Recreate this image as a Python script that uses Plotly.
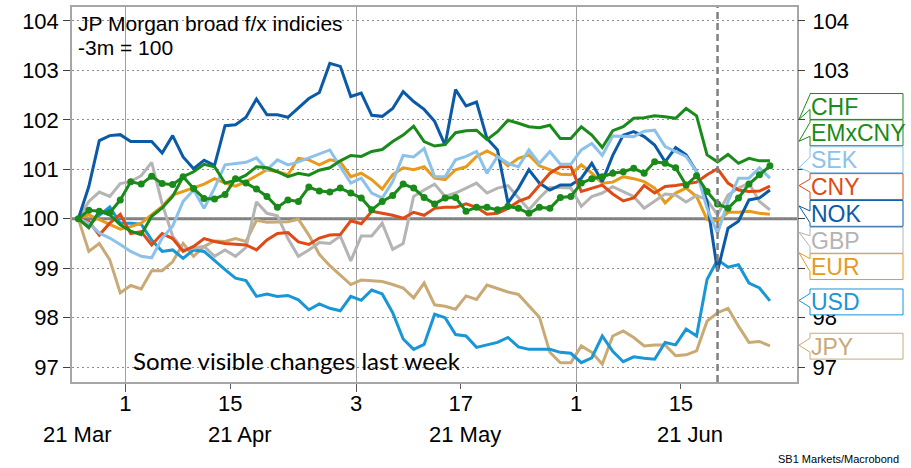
import pandas as pd
import plotly.graph_objects as go

# ---------------------------------------------------------------- data
# Business days, 3 months ending 25 Jun 2021 (index = 100 at the start)
dates = pd.bdate_range("2021-03-25", "2021-06-25") + pd.Timedelta(hours=12)

chf = [100.00, 99.82, 100.15, 100.08, 99.88, 99.75, 99.68, 100.05, 100.22, 100.45,
       100.85, 100.95, 101.10, 101.05, 100.72, 100.78, 100.88, 101.05, 101.03, 100.95,
       100.85, 100.92, 100.88, 100.98, 101.03, 101.17, 101.28, 101.26, 101.36, 101.40,
       101.56, 101.69, 101.87, 101.56, 101.47, 101.50, 101.74, 101.78, 101.79, 101.60,
       101.76, 101.99, 101.93, 101.86, 101.84, 101.89, 101.62, 101.62, 101.86, 101.69,
       101.44, 101.78, 101.86, 102.03, 102.04, 102.08, 102.06, 102.03, 102.23, 102.08,
       101.29, 101.15, 101.30, 101.12, 101.22, 101.17, 101.17]

emxcny = [100.00, 100.17, 100.15, 100.12, 100.38, 100.75, 100.70, 100.86, 100.71, 100.69,
          100.85, 100.61, 100.41, 100.40, 100.49, 100.81, 100.72, 100.60, 100.45, 100.23,
          100.38, 100.35, 100.64, 100.56, 100.54, 100.62, 100.52, 100.42, 100.18, 100.35,
          100.47, 100.70, 100.62, 100.43, 100.30, 100.42, 100.43, 100.15, 100.23, 100.23,
          100.18, 100.25, 100.21, 100.11, 100.23, 100.21, 100.43, 100.45, 100.72, 100.81,
          100.85, 100.92, 100.95, 101.02, 100.92, 101.15, 101.12, 101.03, 100.68, 100.87,
          100.55, 100.30, 100.21, 100.42, 100.70, 100.89, 101.07]

sek = [100.00, 99.91, 99.71, 99.61, 99.48, 99.34, 99.24, 99.21, 99.61, 99.85,
       100.35, 100.58, 100.21, 100.62, 101.09, 101.12, 101.14, 101.23, 100.99, 101.19,
       101.09, 101.15, 101.23, 101.30, 101.39, 101.05, 100.72, 100.82, 100.52, 100.42,
       100.75, 101.28, 101.25, 101.42, 100.85, 100.85, 101.19, 101.26, 101.36, 100.92,
       101.26, 101.12, 101.05, 101.39, 101.12, 101.36, 101.10, 101.10, 101.39, 101.52,
       101.28, 101.67, 101.66, 101.66, 101.77, 101.79, 101.46, 101.36, 101.26, 100.95,
       100.21, 99.71, 100.35, 100.82, 100.82, 101.03, 100.82]

cny = [100.00, 99.95, 99.67, 99.91, 100.09, 99.70, 99.74, 99.47, 99.70, 99.60,
       99.34, 99.44, 99.60, 99.54, 99.50, 99.48, 99.47, 99.37, 99.57, 99.70,
       99.72, 99.53, 99.48, 99.61, 99.67, 99.68, 99.96, 99.90, 100.15, 100.11,
       100.07, 100.01, 100.13, 100.07, 100.21, 100.23, 100.23, 100.30, 100.23, 100.09,
       100.11, 100.21, 100.35, 100.43, 100.68, 100.92, 101.05, 101.05, 100.55, 100.62,
       100.68, 100.50, 100.36, 100.42, 100.67, 100.52, 100.65, 100.67, 100.70, 100.74,
       100.89, 101.01, 100.72, 100.58, 100.55, 100.56, 100.66]

nok = [100.00, 100.65, 101.58, 101.68, 101.70, 101.56, 101.56, 101.56, 101.33, 101.68,
       101.25, 101.01, 101.18, 101.08, 101.88, 101.90, 102.05, 102.42, 102.10, 102.10,
       102.05, 102.25, 102.43, 102.55, 103.14, 103.08, 102.47, 102.54, 102.09, 102.07,
       102.23, 102.57, 102.37, 102.21, 101.97, 101.49, 102.61, 102.28, 102.36, 101.62,
       101.39, 100.32, 100.62, 100.99, 100.72, 100.58, 100.68, 100.68, 100.82, 101.12,
       100.75, 101.28, 101.69, 101.76, 101.66, 101.49, 101.15, 101.44, 101.29, 100.95,
       100.35, 98.94, 99.81, 99.95, 100.38, 100.42, 100.58]

gbp = [100.00, 100.35, 100.54, 100.45, 100.71, 100.75, 100.87, 101.14, 100.30, 99.65,
       99.37, 99.40, 99.44, 99.24, 99.37, 99.24, 99.42, 100.34, 100.11, 100.06,
       99.60, 99.24, 99.37, 99.52, 99.50, 99.65, 99.15, 99.65, 99.65, 99.91,
       99.38, 99.50, 100.45, 100.58, 100.70, 100.45, 100.52, 100.62, 100.72, 100.52,
       100.62, 100.67, 100.42, 100.18, 100.42, 100.63, 100.63, 100.62, 100.25, 100.45,
       100.52, 100.65, 100.55, 100.45, 100.21, 100.35, 100.50, 100.48, 100.34, 100.47,
       100.38, 100.08, 100.48, 100.62, 100.72, 100.35, 100.18]

eur = [100.00, 100.08, 99.98, 99.89, 99.79, 99.84, 99.91, 100.08, 100.25, 100.48,
       100.55, 100.62, 100.70, 100.81, 100.72, 100.66, 100.75, 100.87, 100.99, 100.95,
       100.89, 101.22, 101.19, 101.09, 101.19, 101.15, 100.85, 100.92, 100.79, 100.60,
       100.89, 101.03, 100.99, 101.05, 100.82, 100.79, 100.99, 101.05, 101.26, 101.37,
       101.26, 101.07, 101.22, 101.29, 101.07, 100.99, 100.90, 100.89, 101.09, 100.92,
       100.72, 100.74, 100.85, 100.81, 100.75, 100.62, 100.32, 100.52, 100.62, 100.45,
       99.98, 99.95, 100.13, 100.13, 100.15, 100.11, 100.09]

usd = [100.00, 99.87, 100.07, 100.24, 99.91, 99.91, 99.89, 99.57, 99.34, 99.37,
       99.20, 99.37, 99.34, 99.15, 98.97, 98.80, 98.75, 98.43, 98.48, 98.43,
       98.45, 98.36, 98.16, 98.28, 98.19, 98.14, 98.43, 98.35, 98.56, 98.48,
       98.10, 97.57, 97.36, 97.46, 98.07, 98.00, 97.66, 97.63, 97.40, 97.45,
       97.50, 97.60, 97.41, 97.36, 97.36, 97.36, 97.30, 97.28, 97.09, 97.19,
       97.63, 97.32, 97.11, 97.21, 97.18, 97.16, 97.50, 97.45, 97.77, 97.63,
       98.77, 99.17, 99.02, 99.07, 98.70, 98.60, 98.34]

jpy = [100.00, 99.34, 99.50, 99.17, 98.50, 98.65, 98.58, 98.95, 98.95, 99.13,
       99.50, 99.24, 99.44, 99.55, 99.54, 99.60, 99.54, 99.97, 99.93, 99.93,
       99.94, 99.99, 99.67, 99.28, 99.05, 98.86, 98.67, 98.76, 98.74, 98.73,
       98.67, 98.60, 98.40, 98.70, 98.26, 98.23, 98.17, 98.44, 98.37, 98.66,
       98.59, 98.52, 98.47, 98.23, 98.01, 97.30, 97.09, 97.09, 97.43, 97.30,
       97.06, 97.63, 97.73, 97.60, 97.43, 97.45, 97.45, 97.23, 97.25, 97.33,
       97.93, 98.10, 98.19, 97.83, 97.50, 97.52, 97.43]

labels = ["CHF", "EMxCNY", "SEK", "CNY", "NOK", "GBP", "EUR", "USD", "JPY"]
values = [chf, emxcny, sek, cny, nok, gbp, eur, usd, jpy]

y_ticks = [97, 98, 99, 100, 101, 102, 103, 104]
y_ticktext_left = ["97", "98", "99", "100", "101", "102", "103", "104"]
# right-hand labels sit behind the callout boxes between 99 and 102
y_ticktext_right = ["97", "98", "", "", "", "", "103", "104"]
x_tickvals = ["2021-04-01", "2021-04-15", "2021-05-03", "2021-05-17", "2021-06-01", "2021-06-15"]
x_ticktext = ["1", "15", "3", "17", "1", "15"]
month_starts = ["2021-04-01", "2021-05-03", "2021-06-01"]
month_labels = ["21 Mar", "21 Apr", "21 May", "21 Jun"]
event_date = "2021-06-18 12:00"

# ---------------------------------------------------------------- styles
colors = {
    "CHF": "#1a8a1a", "EMxCNY": "#1a8a1a", "SEK": "#8cc2ea", "CNY": "#e04a14",
    "NOK": "#0b5aa6", "GBP": "#b4b4b4", "EUR": "#e89a1c", "USD": "#1896d6",
    "JPY": "#c9aa74",
}
FONT = "Liberation Sans, Arial, sans-serif"
TICK_SIZE = 22

W, H = 911, 468
L, R, T, B = 72, 797, 5, 382          # plot area in pixels


def px(x):
    return (x - L) / (R - L)


def py(y):
    return (B - y) / (B - T)


fig = go.Figure()

draw_order = ["JPY", "USD", "EUR", "GBP", "NOK", "CNY", "SEK", "CHF", "EMxCNY"]
for name in draw_order:
    vals = values[labels.index(name)]
    with_markers = name == "EMxCNY"
    fig.add_trace(go.Scatter(
        x=dates, y=vals, name=name,
        mode="lines+markers" if with_markers else "lines",
        line=dict(color=colors[name], width=3),
        marker=dict(size=7, color=colors[name]) if with_markers else None,
        # the top-most series also carries the right-hand value axis
        yaxis="y2" if name == draw_order[-1] else "y",
        showlegend=False, hoverinfo="skip",
    ))

axis_common = dict(
    range=[96.70, 104.28],
    tickmode="array", tickvals=y_ticks,
    ticks="outside", ticklen=7, tickcolor="#404040",
    tickfont=dict(size=TICK_SIZE, family=FONT, color="black"),
    zeroline=False,
)

fig.update_layout(
    width=W, height=H,
    margin=dict(l=L, r=W - R, t=T, b=H - B, pad=0),
    paper_bgcolor="white", plot_bgcolor="white",
    font=dict(family=FONT, color="black"),
    showlegend=False,
    xaxis=dict(
        type="date",
        range=["2021-03-24 21:30", "2021-06-30 02:00"],
        rangebreaks=[dict(bounds=["sat", "mon"])],
        tickmode="array", tickvals=x_tickvals, ticktext=x_ticktext,
        ticks="outside", ticklen=5, tickwidth=1, tickcolor="#595959",
        tickfont=dict(size=TICK_SIZE, family=FONT, color="black"),
        showgrid=False, zeroline=False,
        showline=True, linecolor="#a6a6a6", linewidth=1.5, mirror=True,
        minor=dict(tickmode="array", tickvals=month_starts, ticks="outside",
                   ticklen=8, tickcolor="#595959", showgrid=True,
                   gridcolor="#a0a0a0", gridwidth=1),
        ticklabelstandoff=-4,
    ),
    yaxis=dict(
        **axis_common, ticktext=y_ticktext_left,
        showgrid=True, gridcolor="#8c8c8c", gridwidth=1, griddash="2px,3px",
        showline=True, linecolor="#a6a6a6", linewidth=1.5, mirror=True,
    ),
    yaxis2=dict(
        **axis_common, ticktext=y_ticktext_right,
        overlaying="y", side="right",
        showgrid=False, showline=False,
        ticklabelstandoff=3,
    ),
)

# solid reference line at 100
fig.add_shape(type="line", xref="paper", yref="y", x0=0, x1=1, y0=100, y1=100,
              line=dict(color="#7f7f7f", width=3), layer="between")

# dashed marker for the latest weekly change
fig.add_shape(type="line", xref="x", yref="paper", x0=event_date, x1=event_date,
              y0=0, y1=1, line=dict(color="#808080", width=2.5, dash="7px,4px"),
              layer="above")

# callout labels on the right hand side
box_left, box_right, tip_x, box_h = 810, 903, 799, 26
box_tops = [92, 118.5, 145.5, 172.5, 199.5, 226.5, 253, 288.5, 333]
tips_y = [118, 140, 166.5, 184.5, 205, 231.5, 252, 300, 345]
attach = [(93, 108), (121, 135), (156, 171), (178, 191), (210, 222),
          (235, 246), (258, 271), (293, 307), (338, 352)]

for name, top, ty, (a1, a2) in zip(labels, box_tops, tips_y, attach):
    bot = top + box_h
    path = (f"M {px(box_left)},{py(top)} L {px(box_right)},{py(top)} "
            f"L {px(box_right)},{py(bot)} L {px(box_left)},{py(bot)} "
            f"L {px(box_left)},{py(a2)} L {px(tip_x)},{py(ty)} "
            f"L {px(box_left)},{py(a1)} Z")
    fig.add_shape(type="path", xref="paper", yref="paper", path=path,
                  fillcolor="white", line=dict(color=colors[name], width=1),
                  layer="above")
    fig.add_annotation(xref="paper", yref="paper", x=px(box_left - 1),
                       y=py(top + box_h / 2 + 0.5), text=name, showarrow=False,
                       xanchor="left", yanchor="middle",
                       font=dict(size=23, family=FONT, color=colors[name]))

# texts
fig.add_annotation(xref="paper", yref="paper", x=px(76), y=py(22),
                   text="JP Morgan broad f/x indicies", showarrow=False,
                   xanchor="left", yanchor="middle",
                   font=dict(size=21, family=FONT, color="black"))
fig.add_annotation(xref="paper", yref="paper", x=px(76), y=py(46),
                   text="-3m = 100", showarrow=False,
                   xanchor="left", yanchor="middle",
                   font=dict(size=21, family=FONT, color="black"))
fig.add_annotation(xref="paper", yref="paper", x=px(131), y=py(360),
                   text="Some visible changes last week", showarrow=False,
                   xanchor="left", yanchor="middle",
                   font=dict(size=24, family="Lato, Carlito, sans-serif", color="black"))

for lab, cx in zip(month_labels, [77, 240, 465, 690]):
    fig.add_annotation(xref="paper", yref="paper", x=px(cx), y=py(435),
                       text=lab, showarrow=False, xanchor="center", yanchor="middle",
                       font=dict(size=TICK_SIZE, family=FONT, color="black"))

fig.add_annotation(xref="paper", yref="paper", x=px(901), y=py(459),
                   text="SB1 Markets/Macrobond", showarrow=False,
                   xanchor="right", yanchor="middle",
                   font=dict(size=11, family=FONT, color="black"))

fig.write_html("out.html")
